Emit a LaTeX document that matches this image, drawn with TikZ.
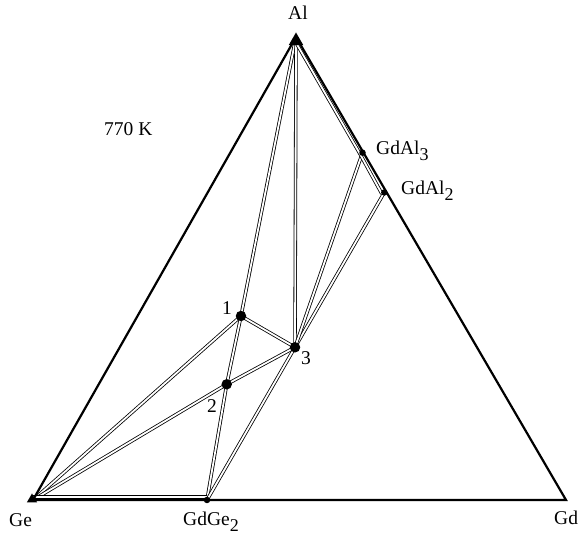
\documentclass[tikz,border=0pt]{standalone}
\usepackage{fontspec}
\setmainfont{Liberation Serif}
\usetikzlibrary{calc,shapes.geometric}
\newcommand\mysub[1]{\raisebox{-5.5pt}{\fontsize{18}{20}\selectfont #1}}
\begin{document}
\begin{tikzpicture}[x=1pt,y=1pt,
  tie/.style={draw=black, line width=0.8pt, double=white, double distance=1.8pt},
  edgeline/.style={draw=black, line width=2.2pt},
  bigdot/.style={circle, fill=black, inner sep=0pt, minimum size=10.5pt},
  smalldot/.style={circle, fill=black, inner sep=0pt, minimum size=6.5pt},
  vtx/.style={regular polygon, regular polygon sides=3, fill=black, inner sep=0pt},
  lbl/.style={font=\fontsize{19.5}{22}\selectfont, inner sep=0pt, anchor=base west}]
\useasboundingbox (0,0) rectangle (580,534);
\coordinate (Al) at (296,497);
\coordinate (Ge) at (33,34);
\coordinate (Gd) at (566,34);
\coordinate (GdAl3) at (362.5,381.3);
\coordinate (GdAl2) at (384.3,341.5);
\coordinate (GdGe2) at (207,34);
\coordinate (P1) at (241,218);
\coordinate (P2) at (226.7,149.7);
\coordinate (P3) at (295,186.7);
% tie lines
\draw[tie] (Al) -- (P1);
\draw[tie] (P1) -- (P2);
\draw[tie] (P2) -- (GdGe2);
\draw[tie] (Al) -- (P3);
\draw[tie] (P1) -- (P3);
\draw[tie] (P2) -- (P3);
\draw[tie] (Ge) -- (P1);
\draw[tie] (Ge) -- (P2);
\draw[tie] (GdGe2) -- (P3);
\draw[tie] (P3) -- (GdAl2);
\draw[tie] (P3) -- (GdAl3);
\draw[tie] ($(Al)!2.8pt!-90:(GdAl3)$) -- ($(GdAl3)!2.8pt!90:(Al)$);
\draw[tie] ($(GdAl3)!2.8pt!-90:(GdAl2)$) -- ($(GdAl2)!2.8pt!90:(GdAl3)$);
\draw[tie] ($(Ge)+(0,2.8)$) -- ($(GdGe2)+(0,2.8)$);
% triangle edges
\draw[edgeline, line join=miter] (Ge) -- (Al) -- (Gd) -- cycle;
% markers
\node[vtx, minimum size=17pt] (mAl) at (296,493) {};
\node[vtx, minimum size=12pt] (mGe) at (32,34.5) {};
\node[smalldot] (dGdAl3) at (GdAl3) {};
\node[smalldot] (dGdAl2) at (GdAl2) {};
\node[smalldot] (dGdGe2) at (GdGe2) {};
\node[bigdot] (d1) at (P1) {};
\node[bigdot] (d2) at (P2) {};
\node[bigdot] (d3) at (P3) {};
% labels
\node[lbl] (tAl) at (288,514) {Al};
\node[lbl] (tT) at (104,398) {770 K};
\node[lbl] (tGdAl3) at (376,379) {GdAl\mysub{3}};
\node[lbl] (tGdAl2) at (401,339) {GdAl\mysub{2}};
\node[lbl] (t1) at (222,219) {1};
\node[lbl] (t2) at (207,121) {2};
\node[lbl] (t3) at (301,169) {3};
\node[lbl] (tGe) at (9,7) {Ge};
\node[lbl] (tGdGe2) at (183,8) {GdGe\mysub{2}};
\node[lbl] (tGd) at (554,9) {Gd};
\end{tikzpicture}
\end{document}
